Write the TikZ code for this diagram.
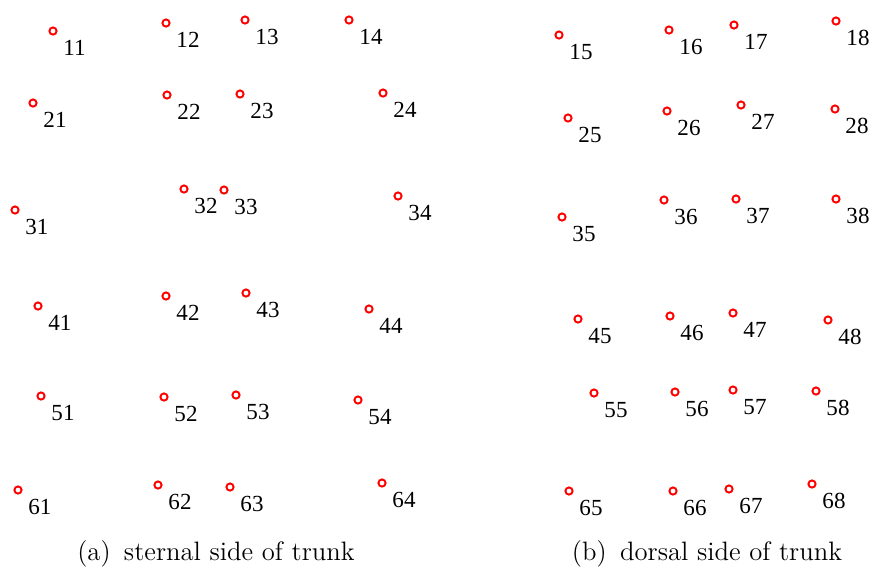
\documentclass[tikz,border=0pt]{standalone}
\usepackage{fontspec}
\newfontfamily\labelfont{Liberation Serif}
\usepackage{tikz}
\usetikzlibrary{calc,positioning}
\tikzset{
    marker/.style={
        circle,
        draw=red,
        line width=0.8pt,
        inner sep=0pt,
        minimum size=3pt
    },
    ptlabel/.style={
        anchor=base west,
        inner sep=0pt,
        font=\labelfont\fontsize{9.6}{10}\selectfont % point numbers
    },
    subcap/.style={
        anchor=base,
        inner sep=0pt,
        font=\fontsize{11.1}{13}\selectfont
    }
}

\begin{document}
\begin{tikzpicture}[x=0.4167pt, y=-0.4167pt]
    \useasboundingbox (0,0) rectangle (873,567);
    % sternal side: points given in pixel positions
    \foreach \n/\x/\y in {11/53/31, 12/166/23, 13/245/20, 14/349/20,
                          21/33/103, 22/167/95, 23/240/94, 24/383/93,
                          31/15/210, 32/184/189, 33/224/190, 34/398/196,
                          41/38/306, 42/166/296, 43/246/293, 44/369/309,
                          51/41/396, 52/164/397, 53/236/395, 54/358/400,
                          61/18/490, 62/158/485, 63/230/487, 64/382/483,
    % dorsal side
                          15/559/35, 16/669/30, 17/734/25, 18/836/21,
                          25/568/118, 26/667/111, 27/741/105, 28/835/109,
                          35/562/217, 36/664/200, 37/736/199, 38/836/199,
                          45/578/319, 46/670/316, 47/733/313, 48/828/320,
                          55/594/393, 56/675/392, 57/733/390, 58/816/391,
                          65/569/491, 66/673/491, 67/729/489, 68/812/484} {
        \node (p\n) [marker] at (\x,\y) {};
        \node (l\n) [ptlabel] at ($(p\n)+(10,24)$) {\n};
    }

    \node (capa) [subcap] at (216,560) {(a)\hspace{0.5em}sternal side of trunk};
    \node (capb) [subcap] at (707,560) {(b)\hspace{0.5em}dorsal side of trunk};
\end{tikzpicture}
\end{document}
